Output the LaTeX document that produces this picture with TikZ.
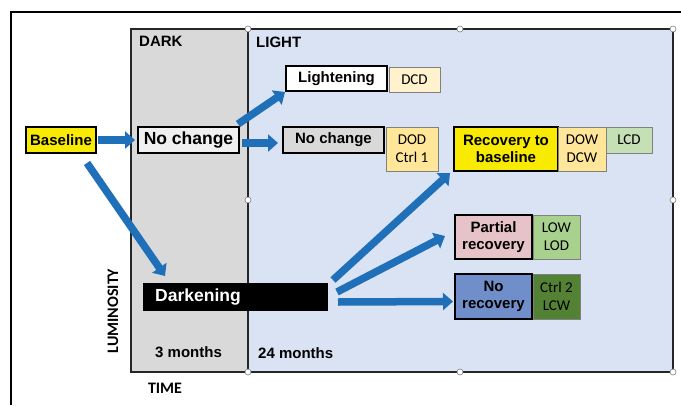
\documentclass[tikz,border=0pt]{standalone}
\usepackage{fontspec}
\setmainfont{Liberation Sans}
\newfontfamily\calfont{Carlito}
\usetikzlibrary{arrows.meta,calc}
\definecolor{arrowblue}{RGB}{31,112,184}
\definecolor{lightpanel}{RGB}{218,227,243}
\definecolor{darkpanel}{RGB}{217,217,217}
\definecolor{ylw}{RGB}{248,234,0}
\definecolor{ncone}{RGB}{240,240,240}
\definecolor{nctwo}{RGB}{217,217,217}
\definecolor{paleyellow}{RGB}{255,242,204}
\definecolor{midyellow}{RGB}{255,230,153}
\definecolor{palegreen}{RGB}{197,224,180}
\definecolor{midgreen}{RGB}{169,209,142}
\definecolor{darkgreen}{RGB}{84,130,53}
\definecolor{pinkfill}{RGB}{230,195,200}
\definecolor{bluefill}{RGB}{112,143,202}
\definecolor{tagborder}{RGB}{128,128,128}
\begin{document}
\begin{tikzpicture}[x=1pt,y=-1pt,
  panel/.style={inner sep=0pt, outer sep=0pt, anchor=north west},
  box/.style={draw=black, line width=1.3pt, inner sep=0pt, outer sep=0pt, anchor=north west, align=center, font=\bfseries\fontsize{15}{17}\selectfont},
  tag/.style={draw=tagborder, line width=0.8pt, inner sep=0pt, outer sep=0pt, anchor=north west, align=center, font=\calfont\fontsize{15}{18}\selectfont},
  bigarrow/.style={draw=arrowblue, line width=7.5pt, -{Triangle[length=10pt,width=17pt]}},
  handle/.style={circle, draw=gray, fill=white, line width=0.6pt, minimum size=6pt, inner sep=0pt},
  label/.style={font=\bfseries\fontsize{15}{17}\selectfont, inner sep=0pt, anchor=base west},
  axislabel/.style={font=\calfont\bfseries\fontsize{16}{18}\selectfont, inner sep=0pt}]
\useasboundingbox (0,0) rectangle (681,405);
\fill[white] (0,0) rectangle (681,405);
% outer frame (only top and left edges visible)
\draw[line width=2pt] (11,405) -- (11,12) -- (681,12);
% panels
\node[panel, fill=lightpanel, minimum width=425pt, minimum height=343pt] (light) at (248,29) {};
\node[panel, fill=darkpanel, minimum width=117pt, minimum height=343pt] (dark) at (131,29) {};
\draw[line width=2pt, black!85] (light.north west) -- (light.north east) -- (light.south east) -- (light.south west);
\draw[line width=2pt, black!85] (dark.north east) -- (dark.north west) -- (dark.south west) -- (dark.south east);
\draw[line width=2pt, black!85] (dark.north east) -- (dark.south east);
% handles
\foreach \p in {(248,29),(460,29),(673,29),(673,200),(248,200),(248,372),(460,372),(673,372)}
  \node[handle] at \p {};
% panel labels
\node[label] (darklbl) at (139,46) {DARK};
\node[label] (lightlbl) at (256,47) {LIGHT};
\node[label] (m3) at (155,357) {3 months};
\node[label] (m24) at (258,358) {24 months};
\node[axislabel, rotate=90] (lum) at (113,311) {LUMINOSITY};
\node[axislabel] (time) at (165,388) {TIME};
% boxes
\node[box, fill=ylw, minimum width=70pt, minimum height=26pt] (base) at (26,127) {Baseline};
\node[box, fill=ncone, minimum width=101pt, minimum height=26pt, font=\bfseries\fontsize{17.5}{19}\selectfont] (nc1) at (138,127) {No change};
\node[box, fill=white, minimum width=101pt, minimum height=25pt] (lighten) at (286,66) {Lightening};
\node[tag, fill=paleyellow, minimum width=51pt, minimum height=25pt] (dcd) at (389,67) {DCD};
\node[box, fill=nctwo, minimum width=101pt, minimum height=26pt] (nc2) at (283,127) {No change};
\node[tag, fill=midyellow, minimum width=52pt, minimum height=44pt] (dod) at (386,127) {DOD\\Ctrl 1};
\node[box, fill=ylw, minimum width=104pt, minimum height=44pt, line width=1.6pt] (rec) at (454,127) {Recovery to\\baseline};
\node[tag, fill=midyellow, minimum width=48pt, minimum height=44pt] (dow) at (558,127) {DOW\\DCW};
\node[tag, fill=palegreen, minimum width=46pt, minimum height=26pt] (lcd) at (606,127) {LCD};
\node[box, fill=pinkfill, minimum width=77pt, minimum height=44pt] (par) at (455,215) {Partial\\recovery};
\node[tag, fill=midgreen, minimum width=47pt, minimum height=44pt] (low) at (533,215) {LOW\\LOD};
\node[box, fill=bluefill, minimum width=77pt, minimum height=45pt] (nor) at (455,274) {No\\recovery};
\node[tag, fill=darkgreen, minimum width=47pt, minimum height=45pt] (ctl) at (533,274) {Ctrl 2\\LCW};
% darkening bar
\node[panel, fill=black, minimum width=185pt, minimum height=28pt] (dk) at (143,283) {};
\node[anchor=west, inner sep=0pt, text=white, font=\bfseries\fontsize{17.5}{19}\selectfont] (dktext) at ($(dk.west)+(12,0)$) {Darkening};
% arrows
\draw[bigarrow] ($(base.east)+(2,0)$) -- ($(nc1.west)+(-3,0)$);
\draw[bigarrow] ($(nc1.north east)+(-1,-3)$) -- ($(lighten.south west)+(-1,1)$);
\draw[bigarrow] ($(nc1.east)+(3,3)$) -- ($(nc2.west)+(-5,3)$);
\draw[bigarrow] ($(base.south)+(26,10)$) -- ($(dk.north west)+(22,-7)$);
\draw[bigarrow] ($(dk.north east)+(5,-3)$) -- ($(rec.south west)+(-4,2)$);
\draw[bigarrow] ($(dk.east)+(9,-5)$) -- ($(par.west)+(-10,-1)$);
\draw[bigarrow] ($(dk.east)+(10,5)$) -- ($(nor.west)+(-2,5)$);
\end{tikzpicture}
\end{document}
